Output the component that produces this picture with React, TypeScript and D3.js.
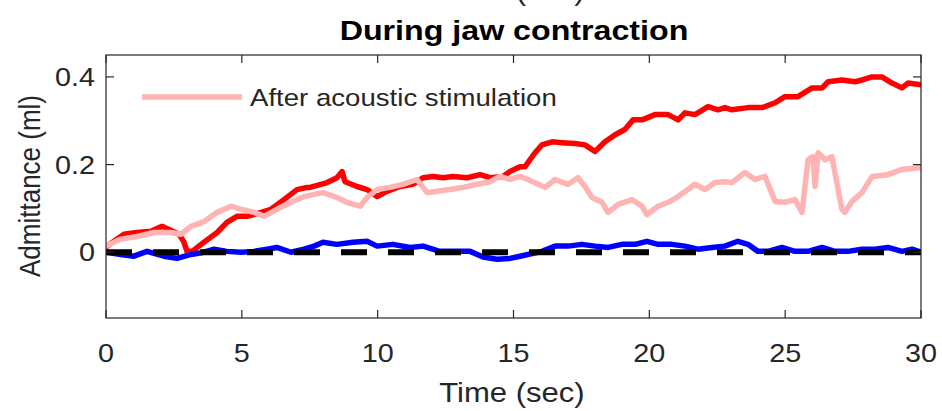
import React from "react";
import * as d3 from "d3";

const title = "During jaw contraction";
const xLabel = "Time (sec)";
const yLabel = "Admittance (ml)";
const legendLabel = "After acoustic stimulation";
const xTicks = [0, 5, 10, 15, 20, 25, 30];
const yTicks = [0, 0.2, 0.4];
const yTickLabels = ["0", "0.2", "0.4"];

const redT = [0,0.04,0.66,1.14,1.66,2.06,2.32,2.69,2.87,2.98,3.17,3.61,4.09,4.45,4.82,5.19,5.71,6.07,6.55,7.03,7.4,7.51,8.14,8.5,8.69,8.8,9.24,9.61,9.98,10.34,10.82,11.3,11.67,12.04,12.4,12.77,13.29,13.77,14.13,14.61,14.87,15.24,15.42,15.79,16.05,16.42,16.79,17.26,17.63,18.0,18.37,18.74,19.1,19.4,19.73,20.21,20.69,21.06,21.31,21.68,22.16,22.53,22.78,23.04,23.63,24.15,24.63,24.99,25.47,25.99,26.36,26.58,27.09,27.57,27.83,28.2,28.56,28.93,29.3,29.52,30];
const redV = [0.011,0.014,0.041,0.045,0.048,0.059,0.052,0.041,0.023,0.002,0.002,0.023,0.045,0.068,0.082,0.082,0.091,0.098,0.12,0.143,0.148,0.148,0.159,0.17,0.184,0.161,0.15,0.143,0.127,0.139,0.15,0.155,0.17,0.173,0.17,0.173,0.17,0.177,0.17,0.173,0.184,0.195,0.195,0.227,0.245,0.252,0.25,0.248,0.245,0.23,0.252,0.268,0.28,0.302,0.302,0.314,0.314,0.302,0.318,0.314,0.332,0.325,0.33,0.325,0.33,0.33,0.341,0.355,0.355,0.375,0.375,0.389,0.393,0.389,0.393,0.4,0.4,0.386,0.375,0.386,0.382];

const pinkT = [0,0.55,1.14,1.77,2.39,2.76,3.13,3.61,4.09,4.6,4.97,5.45,5.82,6.29,6.81,7.29,7.66,7.99,8.5,8.87,9.35,9.61,9.98,10.45,10.93,11.45,11.82,12.18,12.66,13.14,13.66,14.13,14.5,14.87,15.24,15.53,16.16,16.53,17.01,17.37,17.63,17.89,18.26,18.48,18.85,19.36,19.73,19.91,20.32,20.69,21.06,21.42,21.68,22.05,22.42,22.78,23.04,23.52,23.89,24.26,24.63,24.99,25.36,25.62,25.84,26.02,26.1,26.21,26.47,26.72,27.09,27.2,27.46,27.83,28.2,28.78,29.3,29.89,30];
const pinkV = [0.014,0.03,0.036,0.045,0.045,0.041,0.059,0.07,0.091,0.105,0.098,0.091,0.082,0.098,0.114,0.127,0.132,0.136,0.125,0.114,0.105,0.125,0.143,0.148,0.155,0.166,0.136,0.139,0.143,0.148,0.155,0.161,0.173,0.166,0.173,0.166,0.148,0.166,0.155,0.17,0.15,0.125,0.114,0.091,0.109,0.12,0.105,0.086,0.105,0.114,0.127,0.143,0.155,0.143,0.159,0.161,0.159,0.182,0.166,0.173,0.116,0.114,0.12,0.091,0.211,0.218,0.15,0.227,0.211,0.218,0.098,0.091,0.116,0.136,0.173,0.177,0.189,0.193,0.193];

const blueT = [0,0.55,1.03,1.51,2.13,2.61,3.13,3.61,3.98,4.45,4.97,5.45,5.93,6.29,6.81,7.29,7.66,7.99,8.5,9.09,9.61,9.98,10.56,11.19,11.67,12.29,12.92,13.4,13.88,14.39,14.87,15.24,15.53,16.05,16.53,17.01,17.52,18.0,18.48,18.99,19.47,19.91,20.32,20.83,21.31,21.79,22.31,22.78,23.26,23.63,24.0,24.37,24.88,25.36,25.84,26.36,26.83,27.31,27.83,28.31,28.78,29.3,29.67,30];
const blueV = [0,-0.005,-0.009,0.002,-0.009,-0.014,-0.005,0,0.007,0.002,0,0.002,0.007,0.011,0,0.007,0.014,0.023,0.018,0.023,0.025,0.014,0.018,0.011,0.014,0.002,0.002,0.002,-0.011,-0.016,-0.014,-0.009,-0.005,0.002,0.014,0.014,0.018,0.014,0.011,0.018,0.018,0.025,0.018,0.018,0.014,0.007,0.011,0.014,0.025,0.018,0.002,0.002,0.011,0.002,0.002,0.011,0.002,0.002,0.007,0.007,0.011,0.002,0.007,0];

const zeroT = [0, 30];
const zeroV = [0, 0];

const W = 942, H = 411;
const L = 106, R = 921, T = 55, B = 318;
const AX = "#262626";
const FONT = "'Liberation Sans', Arial, Helvetica, sans-serif";
const SX = 1.15;

export default function App() {
  const x = d3.scaleLinear().domain([0, 30]).range([L, R]);
  const y = d3.scaleLinear().domain([-0.15, 0.45]).range([B, T]);
  const line = d3.line<[number, number]>().x(d => x(d[0])).y(d => y(d[1]));
  const pts = (ts: number[], vs: number[]) => ts.map((t, i) => [t, vs[i]] as [number, number]);

  const series = [
    { t: redT, v: redV, c: "#ff0000", w: 5.5, dash: undefined },
    { t: pinkT, v: pinkV, c: "#ffb3b3", w: 5.5, dash: undefined },
    { t: blueT, v: blueV, c: "#0000ff", w: 5.5, dash: undefined },
    { t: zeroT, v: zeroV, c: "#000000", w: 6, dash: "26 21" },
  ];

  const hText = (s: string, cx: number, by: number, size: number, anchor: string, extra: any = {}) => (
    <text transform={`translate(${cx},${by}) scale(${SX},1)`} textAnchor={anchor} fontSize={size} fontFamily={FONT} fill={AX} {...extra}>{s}</text>
  );

  return (
    <svg width={W} height={H} style={{ position: "absolute", left: 0, top: 0, background: "#fff" }}>
      <rect x={0} y={0} width={W} height={H} fill="#fff" />
      {hText(xLabel, 512, 0, 27, "middle")}
      {hText(title, 514, 40, 28, "middle", { fontWeight: "bold", fill: "#000" })}
      <defs>
        <clipPath id="plotclip"><rect x={L} y={T} width={R - L} height={B - T} /></clipPath>
      </defs>
      <g clipPath="url(#plotclip)">
        {series.map((s, i) => (
          <path key={i} d={line(pts(s.t, s.v)) || ""} fill="none" stroke={s.c} strokeWidth={s.w}
            strokeDasharray={s.dash} strokeLinejoin="round" strokeLinecap={s.dash ? "butt" : "round"} />
        ))}
      </g>
      <rect x={L} y={T} width={R - L} height={B - T} fill="none" stroke={AX} strokeWidth={1.2} />
      {xTicks.map(t => (
        <g key={"xt" + t}>
          <line x1={x(t)} x2={x(t)} y1={B} y2={B - 8} stroke={AX} strokeWidth={1.2} />
          <line x1={x(t)} x2={x(t)} y1={T} y2={T + 8} stroke={AX} strokeWidth={1.2} />
          {hText(String(t), x(t), 362, 25, "middle")}
        </g>
      ))}
      {yTicks.map((v, i) => (
        <g key={"yt" + v}>
          <line x1={L} x2={L + 8} y1={y(v)} y2={y(v)} stroke={AX} strokeWidth={1.2} />
          <line x1={R} x2={R - 8} y1={y(v)} y2={y(v)} stroke={AX} strokeWidth={1.2} />
          {hText(yTickLabels[i], 95, y(v) + 9, 25, "end")}
        </g>
      ))}
      <text transform={`translate(40,186) scale(${SX},1) rotate(-90)`} textAnchor="middle" fontSize={26} fontFamily={FONT} fill={AX}>{yLabel}</text>
      {hText(xLabel, 512, 402, 27, "middle")}
      <line x1={142} x2={242} y1={97} y2={97} stroke="#ffb3b3" strokeWidth={5.5} />
      {hText(legendLabel, 250, 106, 24, "start")}
    </svg>
  );
}
